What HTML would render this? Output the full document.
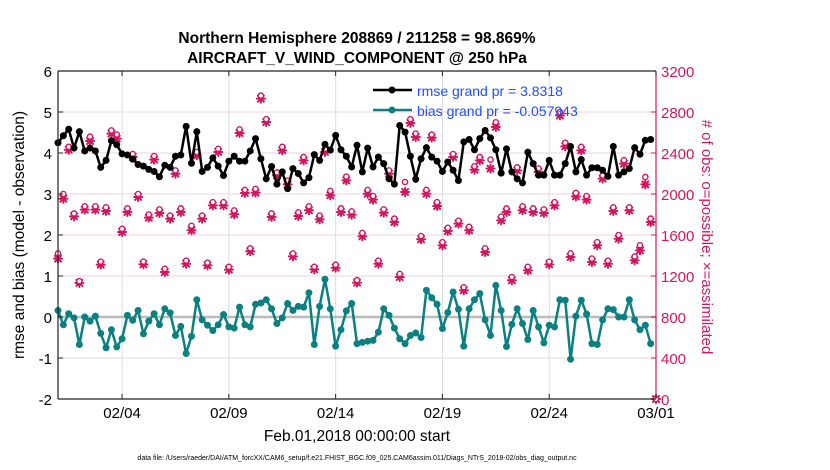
<!DOCTYPE html>
<html><head><meta charset="utf-8"><style>
body{margin:0;background:#fff;}
svg{display:block;font-family:"Liberation Sans",Arial,sans-serif;}
</style></head><body>
<svg id="chart" width="830" height="470" viewBox="0 0 830 470">
<text x="357" y="43" text-anchor="middle" font-size="15.5" font-weight="bold">Northern Hemisphere 208869 / 211258 = 98.869%</text>
<text x="357" y="63" text-anchor="middle" font-size="15.5" font-weight="bold">AIRCRAFT_V_WIND_COMPONENT @ 250 hPa</text>
<g id="grid"></g>
<g id="marks"></g>
<g id="axes"></g>
<text transform="translate(24,235) rotate(-90)" text-anchor="middle" font-size="15.5">rmse and bias (model - observation)</text>
<text transform="translate(702,237) rotate(90)" text-anchor="middle" font-size="15" fill="#d1175f"># of obs: o=possible; ×=assimilated</text>
<text x="357" y="441" text-anchor="middle" font-size="15.5">Feb.01,2018 00:00:00 start</text>
<text x="357" y="460" text-anchor="middle" font-size="7">data file: /Users/raeder/DAI/ATM_forcXX/CAM6_setup/f.e21.FHIST_BGC.f09_025.CAM6assim.011/Diags_NTrS_2018-02/obs_diag_output.nc</text>
<g>
<line x1="373" y1="90" x2="412" y2="90" stroke="#000" stroke-width="2.5"/>
<circle cx="392" cy="90" r="3.5" fill="#000"/>
<text x="417" y="96" font-size="14" fill="#1d4dff">rmse grand pr = 3.8318</text>
<line x1="373" y1="110" x2="412" y2="110" stroke="#0b8080" stroke-width="2.5"/>
<circle cx="392" cy="110" r="3.5" fill="#0b8080"/>
<text x="417" y="116" font-size="14" fill="#1d4dff">bias grand pr = -0.057943</text>
</g>
</svg>
<script>
const rmse=[4.25,4.42,4.58,4.12,4.52,4.05,4.12,4.05,3.65,3.82,4.3,4.2,3.98,3.95,3.85,3.72,3.68,3.6,3.55,3.42,3.7,3.65,3.92,3.95,4.65,3.75,4.52,3.55,3.65,3.88,3.68,3.45,3.8,3.92,3.8,3.8,4.05,4.35,3.86,3.37,3.67,3.24,3.54,3.13,3.62,3.5,3.27,3.4,3.96,3.82,4.21,4.07,4.43,4.08,3.92,3.66,4.19,3.54,4.12,3.66,3.9,3.74,3.37,3.24,4.67,4.51,3.92,3.36,3.86,4.13,3.9,3.8,3.55,3.78,3.58,3.33,4.27,4.33,4.08,4.35,4.55,4.37,4.08,3.51,4.1,3.54,3.37,3.27,4.02,3.74,3.46,3.46,3.82,3.46,3.46,3.74,4.16,3.54,3.84,3.46,3.64,3.64,3.58,3.43,4.16,3.46,3.54,3.62,4.13,3.97,4.31,4.33];
const bias=[0.16,-0.19,0.08,-0.02,-0.67,0,-0.1,0.02,-0.4,-0.75,-0.31,-0.73,-0.53,0.04,-0.08,0.16,-0.41,-0.1,0.08,-0.19,0.2,0.1,-0.45,-0.23,-0.89,-0.47,0.42,-0.07,-0.2,-0.33,-0.19,0.06,-0.24,-0.27,0.24,-0.19,-0.24,0.31,0.34,0.42,0.2,-0.16,-0.02,0.33,0.16,0.26,0.24,0.59,-0.67,0.26,0.92,0.2,-0.71,-0.31,0.15,0.33,-0.65,-0.62,-0.59,-0.57,-0.37,0.2,0.04,-0.27,-0.53,-0.65,-0.45,-0.39,-0.5,0.65,0.47,0.31,-0.28,0.11,0.61,0.19,-0.71,0.2,0.42,0.57,-0.07,-0.45,0.77,0.16,-0.72,-0.18,0.2,-0.16,-0.55,0.16,-0.24,-0.63,-0.2,-0.24,0.42,0.41,-1.03,0.02,0.41,0.07,-0.65,-0.67,-0.07,0.2,0.18,0,0,0.42,-0.07,-0.31,-0.2,-0.65];
const assimilated=[1369,1954,2432,1782,1132,1847,2517,1847,1311,1834,2589,2540,1629,1824,2361,1971,1314,1769,2335,1815,1239,1759,2198,1824,1320,1646,2377,1759,1304,1889,2410,1889,1262,1802,2595,2010,1441,2013,2930,2702,1776,2182,2426,2094,1392,1785,2328,1841,1265,1753,2410,1987,1281,1824,2133,1798,1135,1587,2003,1945,1320,1818,2198,1727,1190,2020,2693,2556,1558,2003,2550,1883,1499,1639,2361,1711,1060,1646,2237,2328,1434,2247,2654,1743,1824,1158,2231,1841,1255,1824,2215,1815,1314,1889,2767,2465,1385,1977,2426,1945,1337,1499,2150,1320,1834,1564,2296,1841,1353,1450,2094,1727,0];
const possible=[1420,2000,2460,1810,1150,1880,2560,1880,1340,1870,2620,2580,1660,1860,2390,2000,1340,1800,2370,1850,1270,1790,2230,1860,1350,1690,2410,1790,1330,1920,2440,1920,1290,1840,2630,2040,1470,2050,2960,2730,1810,2210,2460,2130,1420,1820,2360,1880,1290,1790,2440,2030,1310,1860,2170,1830,1160,1620,2040,1980,1350,1850,2230,1760,1220,2117,2730,2590,1590,2040,2580,1920,1530,1670,2390,1740,1090,1680,2270,2360,1470,2335,2700,1780,1860,1190,2260,1880,1290,1860,2250,1850,1340,1920,2800,2500,1420,2010,2460,1980,1370,1530,2180,1350,1870,1600,2330,1870,1390,1500,2166,1760,0];
const xTickLabels=["02/04","02/09","02/14","02/19","02/24","03/01"];
const xTickDays=[3,8,13,18,23,28];
const leftTicks=[-2,-1,0,1,2,3,4,5,6];
const rightTicks=[0,400,800,1200,1600,2000,2400,2800,3200];

const NS="http://www.w3.org/2000/svg";
const X0=58,X1=656,Y0=71,Y1=399;
const xDay=d=>X0+(X1-X0)*d/28;
const xIdx=i=>xDay(i*0.25);
const yL=v=>Y1-(v+2)/8*(Y1-Y0);
const yR=c=>Y1-c/3200*(Y1-Y0);
const RED="#d1175f",TEAL="#0b8080";
function mk(tag,attrs,parent){const e=document.createElementNS(NS,tag);for(const k in attrs)e.setAttribute(k,attrs[k]);parent.appendChild(e);return e;}
const grid=document.getElementById('grid'),marks=document.getElementById('marks'),axes=document.getElementById('axes');

leftTicks.forEach(v=>{
 if(v>-2&&v<6){const l=mk('line',{x1:X0,x2:X1,y1:yL(v),y2:yL(v),stroke:'#f2d3df','stroke-width':1},grid);
 
 }
 mk('line',{x1:X0,x2:X0+5,y1:yL(v),y2:yL(v),stroke:'#222'},axes);
 const t=mk('text',{x:X0-6,y:yL(v)+6,'text-anchor':'end','font-size':15},axes);t.textContent=v;
 
 
});
rightTicks.forEach(c=>{
 mk('line',{x1:X1-5,x2:X1,y1:yR(c),y2:yR(c),stroke:RED},axes);
 const t=mk('text',{x:X1+5,y:yR(c)+6,'font-size':15,fill:RED},axes);t.textContent=c;
 
 
});
xTickDays.forEach((d,k)=>{
 const x=xDay(d);
 if(d<28){const g=mk('line',{x1:x,x2:x,y1:Y0,y2:Y1,stroke:'#dcdcdc','stroke-width':1},grid);
 
 }
 const t=mk('text',{x:x,y:418,'text-anchor':'middle','font-size':15},axes);t.textContent=xTickLabels[k];
 
 
});
const z=mk('line',{x1:X0,x2:X1,y1:yL(0),y2:yL(0),stroke:'#bbbbbb','stroke-width':2.5},grid);



assimilated.forEach((c,i)=>{
 const x=xIdx(i),y=yR(c);
 const g=mk('g',{stroke:RED,'stroke-width':2,'stroke-linecap':'round'},marks);
 
 
 mk('line',{x1:x-4,x2:x+4,y1:y,y2:y},g);
 mk('line',{x1:x,x2:x,y1:y-4,y2:y+4},g);
 mk('line',{x1:x-3,x2:x+3,y1:y-3,y2:y+3},g);
 mk('line',{x1:x-3,x2:x+3,y1:y+3,y2:y-3},g);
 mk('circle',{cx:x,cy:y,r:2.6,fill:RED,stroke:'none'},g);
});
possible.forEach((c,i)=>{
 const p=mk('circle',{cx:xIdx(i),cy:yR(c),r:2.6,fill:'#fff',stroke:RED,'stroke-width':1.4},marks);
 
 
});

function series(arr,color,name){
 const pts=arr.map((v,i)=>xIdx(i).toFixed(1)+','+yL(v).toFixed(1)).join(' ');
 const pl=mk('polyline',{points:pts,fill:'none',stroke:color,'stroke-width':2.5,'stroke-linejoin':'round'},marks);
 
 
 arr.forEach((v,i)=>{
  const c=mk('circle',{cx:xIdx(i),cy:yL(v),r:3.5,fill:color},marks);
  
  
 });
}
series(rmse,'#000','rmse');
series(bias,TEAL,'bias');

const fr=[[X0,Y0,X1,Y0,'#222'],[X0,Y0,X0,Y1,'#222'],[X0,Y1,X1,Y1,'#222'],[X1,Y0,X1,Y1,RED]];
fr.forEach(f=>{const l=mk('line',{x1:f[0],y1:f[1],x2:f[2],y2:f[3],stroke:f[4],'stroke-width':1.2},axes);
 
 });
xTickDays.forEach(d=>{const x=xDay(d);
 mk('line',{x1:x,x2:x,y1:Y1,y2:Y1-5,stroke:'#222'},axes);
 mk('line',{x1:x,x2:x,y1:Y0,y2:Y0+5,stroke:'#222'},axes);});
</script>
</body></html>
